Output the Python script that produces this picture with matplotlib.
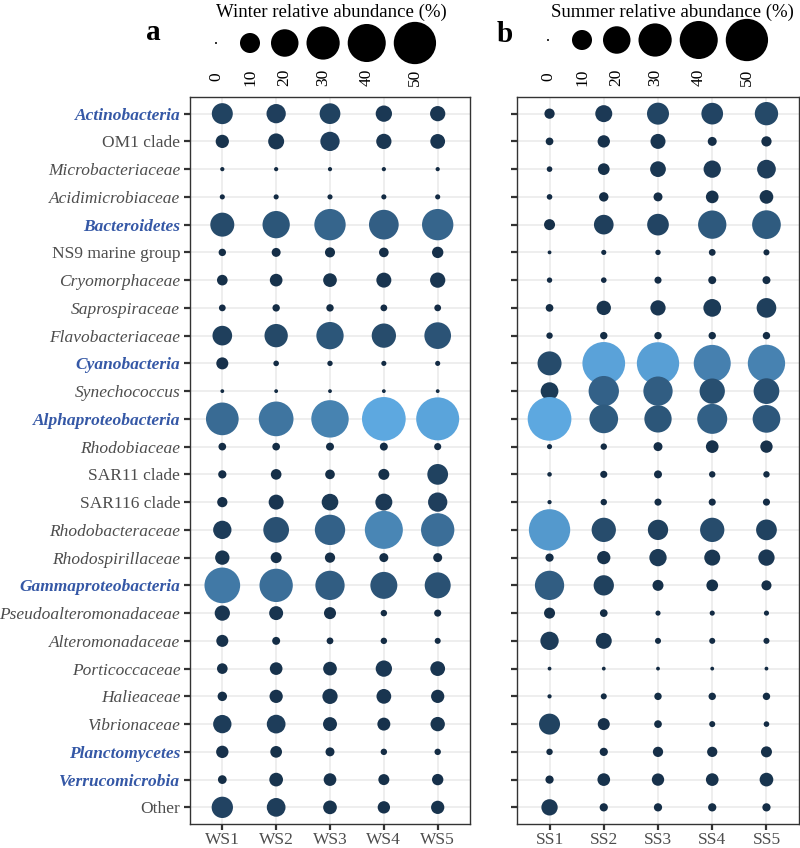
import numpy as np
import matplotlib
matplotlib.use('Agg')
import matplotlib.pyplot as plt
from matplotlib.colors import ListedColormap, to_rgb

plt.rcParams['font.family'] = ['Liberation Serif', 'DejaVu Serif']

# taxa, top to bottom
taxa = ['Actinobacteria', 'OM1 clade', 'Microbacteriaceae', 'Acidimicrobiaceae',
        'Bacteroidetes', 'NS9 marine group', 'Cryomorphaceae', 'Saprospiraceae',
        'Flavobacteriaceae', 'Cyanobacteria', 'Synechococcus', 'Alphaproteobacteria',
        'Rhodobiaceae', 'SAR11 clade', 'SAR116 clade', 'Rhodobacteraceae',
        'Rhodospirillaceae', 'Gammaproteobacteria', 'Pseudoalteromonadaceae',
        'Alteromonadaceae', 'Porticoccaceae', 'Halieaceae', 'Vibrionaceae',
        'Planctomycetes', 'Verrucomicrobia', 'Other']
phyla = ['Actinobacteria', 'Bacteroidetes', 'Cyanobacteria', 'Alphaproteobacteria',
         'Gammaproteobacteria', 'Planctomycetes', 'Verrucomicrobia']
upright = ['OM1 clade', 'NS9 marine group', 'SAR11 clade', 'SAR116 clade', 'Other']

winter_sites = ['WS1', 'WS2', 'WS3', 'WS4', 'WS5']
summer_sites = ['SS1', 'SS2', 'SS3', 'SS4', 'SS5']

# relative abundance (%), rows follow taxa, columns follow sites
winter = np.array([
    [11.1, 9.2, 10.8, 6.3, 5.4],
    [3.9, 6.0, 9.2, 5.4, 5.0],
    [0.15, 0.15, 0.15, 0.15, 0.15],
    [0.3, 0.3, 0.3, 0.3, 0.3],
    [14.9, 19.7, 26.5, 23.6, 26.5],
    [0.9, 1.5, 2.0, 1.8, 2.7],
    [2.3, 3.5, 4.2, 5.2, 5.4],
    [0.7, 0.9, 0.9, 0.7, 0.7],
    [9.6, 14.0, 19.7, 15.3, 18.7],
    [3.1, 0.4, 0.35, 0.3, 0.3],
    [0.1, 0.1, 0.1, 0.1, 0.1],
    [29.0, 32.9, 38.6, 53.5, 51.7],
    [1.0, 1.0, 1.1, 1.1, 0.8],
    [1.2, 2.3, 1.8, 2.5, 10.8],
    [2.1, 5.2, 6.6, 6.9, 9.2],
    [8.2, 17.3, 24.7, 39.9, 30.2],
    [4.7, 2.5, 2.1, 1.5, 1.5],
    [34.9, 30.2, 22.9, 19.2, 17.7],
    [5.4, 4.4, 3.1, 0.6, 0.8],
    [3.1, 1.1, 0.7, 0.6, 0.5],
    [2.3, 3.5, 4.2, 6.3, 5.0],
    [1.7, 3.9, 5.4, 5.0, 3.9],
    [8.2, 8.6, 4.4, 3.7, 4.7],
    [3.3, 2.9, 1.5, 0.6, 0.6],
    [1.4, 4.2, 3.5, 2.5, 2.7],
    [11.5, 8.6, 4.2, 3.3, 3.9],
])

summer = np.array([
    [2.1, 6.9, 12.3, 11.9, 14.0],
    [1.0, 3.3, 5.2, 1.5, 2.1],
    [0.4, 2.9, 5.8, 7.2, 8.6],
    [0.4, 1.7, 1.5, 3.5, 4.2],
    [2.5, 9.6, 11.9, 21.3, 21.9],
    [0.1, 0.3, 0.35, 0.7, 0.5],
    [0.35, 0.4, 0.8, 1.1, 1.1],
    [1.0, 4.7, 5.4, 7.6, 9.6],
    [0.6, 0.9, 0.9, 0.9, 0.9],
    [14.9, 51.0, 50.0, 37.7, 38.4],
    [7.6, 24.7, 22.9, 16.7, 17.3],
    [53.5, 21.9, 19.7, 24.1, 20.3],
    [0.3, 0.6, 1.5, 3.5, 3.3],
    [0.2, 0.8, 1.1, 0.6, 0.6],
    [0.15, 0.6, 0.8, 0.8, 0.8],
    [47.6, 15.3, 10.3, 15.3, 10.8],
    [1.2, 3.9, 7.2, 6.0, 6.3],
    [22.9, 10.3, 2.5, 2.9, 2.0],
    [2.5, 1.0, 0.3, 0.3, 0.3],
    [8.2, 6.0, 0.5, 0.5, 0.5],
    [0.1, 0.1, 0.1, 0.1, 0.1],
    [0.15, 0.5, 0.9, 0.9, 0.9],
    [11.1, 3.1, 1.0, 0.5, 0.4],
    [0.6, 1.2, 2.1, 2.1, 2.5],
    [1.2, 3.5, 3.3, 3.5, 4.2],
    [6.3, 1.2, 1.2, 1.2, 1.2],
])

legend_breaks = [0, 10, 20, 30, 40, 50]

DPI = 100
W, H = 800, 848


# --- Lab gradient, like ggplot's default continuous colour scale ---
_WHITE = np.array([0.95047, 1.0, 1.08883])
_M = np.array([[0.4124, 0.3576, 0.1805],
               [0.2126, 0.7152, 0.0722],
               [0.0193, 0.1192, 0.9505]])


def rgb2lab(rgb):
    c = np.asarray(rgb, dtype=float)
    lin = np.where(c <= 0.04045, c / 12.92, ((c + 0.055) / 1.055) ** 2.4)
    xyz = _M @ lin / _WHITE
    f = np.where(xyz > 216 / 24389, np.cbrt(xyz), (24389 / 27 * xyz + 16) / 116)
    return np.array([116 * f[1] - 16, 500 * (f[0] - f[1]), 200 * (f[1] - f[2])])


def lab2rgb(lab):
    L, a, b = lab
    fy = (L + 16) / 116
    f = np.array([fy + a / 500, fy, fy - b / 200])
    xyz = np.where(f ** 3 > 216 / 24389, f ** 3, (116 * f - 16) / (24389 / 27)) * _WHITE
    lin = np.linalg.solve(_M, xyz)
    c = np.where(lin <= 0.0031308, 12.92 * lin, 1.055 * np.clip(lin, 0, None) ** (1 / 2.4) - 0.055)
    return np.clip(c, 0, 1)


lo, hi = rgb2lab(to_rgb('#132B43')), rgb2lab(to_rgb('#5DA8E0'))
cmap = ListedColormap([lab2rgb(lo + t * (hi - lo)) for t in np.linspace(0, 1, 256)])
vmax = max(winter.max(), summer.max())


def diam_px(v):
    # area scale: diameter grows with sqrt(value)
    return 2.0 + 5.7 * np.sqrt(np.asarray(v, dtype=float))


def size_pt2(v):
    return (diam_px(v) * 72.0 / DPI) ** 2


fig = plt.figure(figsize=(8, 8.48), dpi=DPI)


def px_axes(x0, y0, x1, y1):
    return fig.add_axes([x0 / W, 1 - y1 / H, (x1 - x0) / W, (y1 - y0) / H])


def draw_panel(ax, data, sites, show_labels):
    nrow, ncol = data.shape
    xx, yy = np.meshgrid(np.arange(ncol), np.arange(nrow))
    ax.scatter(xx.ravel(), yy.ravel(), s=size_pt2(data.ravel()),
               c=data.ravel(), cmap=cmap, vmin=0, vmax=vmax,
               linewidths=0, zorder=3)
    ax.set_xlim(-0.6, ncol - 0.4)
    ax.set_ylim(nrow - 0.4, -0.6)
    ax.set_xticks(np.arange(ncol))
    ax.set_xticklabels(sites)
    ax.set_yticks(np.arange(nrow))
    ax.grid(True, color='#EBEBEB', linewidth=1.2, zorder=0)
    ax.set_axisbelow(True)
    for sp in ax.spines.values():
        sp.set_color('#333333')
        sp.set_linewidth(1.0)
    ax.tick_params(axis='both', length=4, width=1.6, color='#333333',
                   labelsize=12.5, labelcolor='#4D4D4D', pad=3)
    ax.tick_params(axis='x', pad=1.5)
    if show_labels:
        ax.set_yticklabels(taxa)
        for lab in ax.get_yticklabels():
            name = lab.get_text()
            if name in phyla:
                lab.set_fontweight('bold')
                lab.set_fontstyle('italic')
                lab.set_color('#3558A6')
            elif name in upright:
                lab.set_fontstyle('normal')
            else:
                lab.set_fontstyle('italic')
    else:
        ax.set_yticklabels([])


def draw_legend(x0, x1, first_center, title, title_x, key_y):
    lax = px_axes(x0, 0, x1, 95)
    lax.set_xlim(x0, x1)
    lax.set_ylim(95, 0)
    lax.axis('off')
    d = diam_px(legend_breaks)
    widths = np.maximum(d + 8, 34)
    centers = first_center + np.concatenate([[0], np.cumsum((widths[:-1] + widths[1:]) / 2)])
    lax.scatter(centers, np.full(len(centers), key_y), s=size_pt2(legend_breaks),
                c='black', linewidths=0, clip_on=False)
    for cx, b in zip(centers, legend_breaks):
        lax.text(cx, 77, str(b), rotation=90, ha='center', va='center',
                 fontsize=12.5, color='black')
    lax.text(title_x, 12, title, ha='center', va='center', fontsize=13.5)
    return lax


ax_a = px_axes(190, 97, 470, 824)
draw_panel(ax_a, winter, winter_sites, True)
ax_b = px_axes(517, 97, 799, 824)
draw_panel(ax_b, summer, summer_sites, False)

la = draw_legend(140, 480, 216, 'Winter relative abundance (%)', 331, 43)
la.text(153, 33, 'a', ha='center', va='center', fontsize=21, fontweight='bold')
lb = draw_legend(480, 800, 548, 'Summer relative abundance (%)', 672, 40)
lb.text(505, 35, 'b', ha='center', va='center', fontsize=21, fontweight='bold')

fig.savefig('out.png', dpi=DPI)
